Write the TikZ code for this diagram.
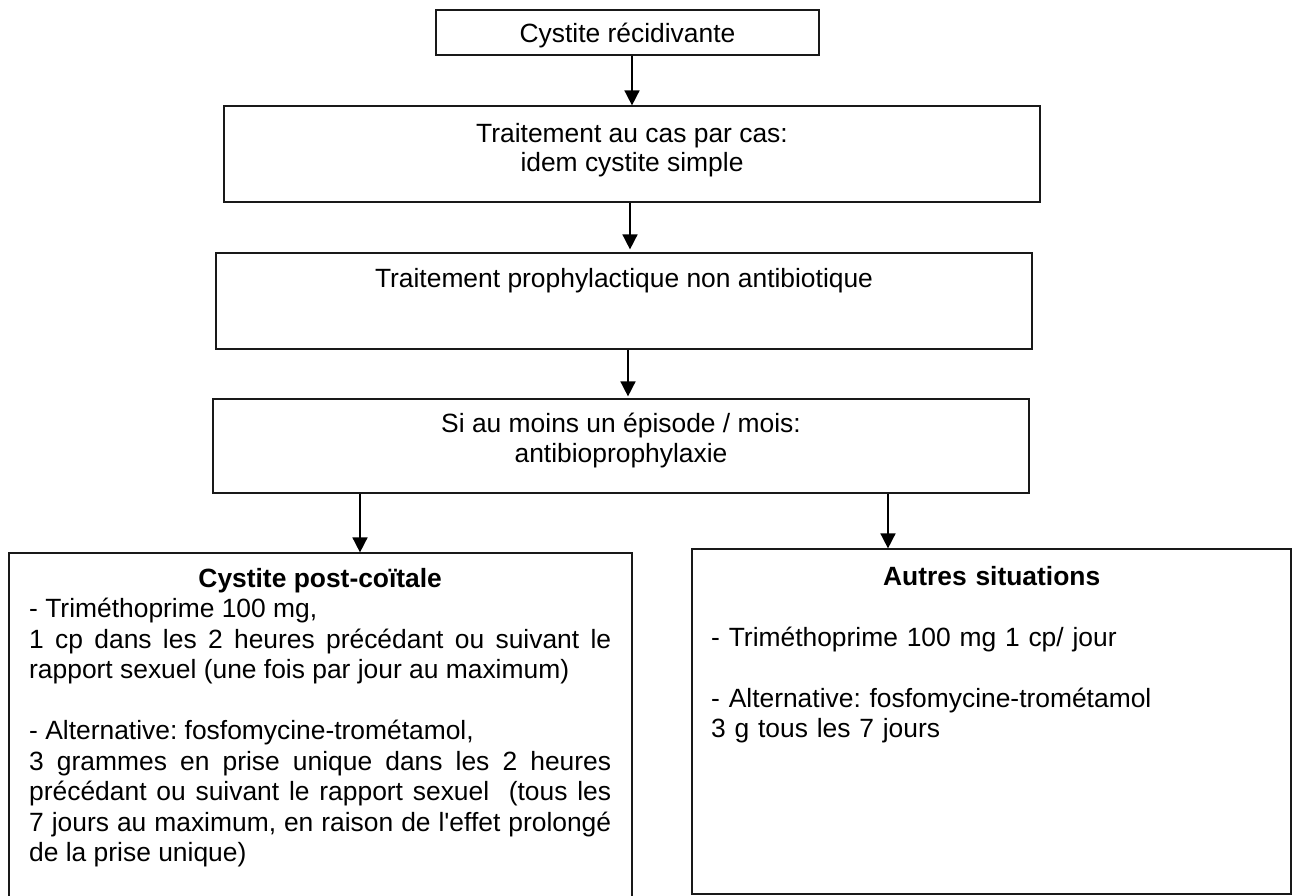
\documentclass[tikz,border=0pt]{standalone}
\usepackage{fontspec}
\setmainfont{Liberation Sans}[Ligatures=TeXOff]
\usetikzlibrary{arrows.meta}
\tolerance=10000
\hyphenpenalty=10000
\frenchspacing
\begin{document}
\begin{tikzpicture}[x=1pt,y=-1pt,
  every node/.style={font=\fontsize{26.4}{30.5}\selectfont\frenchspacing},
  box/.style={draw=black!90, line width=1.2pt, inner sep=0pt, rectangle},
  txt/.style={inner sep=0pt, align=center, text=black},
  arr/.style={-{Triangle[width=15pt,length=15pt]}, line width=1.6pt, draw=black}]
\useasboundingbox (0,0) rectangle (1296,895);
\fill[white] (0,0) rectangle (1296,895);
\clip (0,0) rectangle (1296,895);

% boxes
\node[box, minimum width=383pt, minimum height=45pt] (b1) at (627.5,32.5) {};
\node[box, minimum width=816pt, minimum height=96pt] (b2) at (632,154) {};
\node[box, minimum width=816pt, minimum height=96pt] (b3) at (624,301) {};
\node[box, minimum width=816pt, minimum height=94pt] (b4) at (621,446) {};
\node[box, minimum width=623pt, minimum height=352pt] (b5) at (320.5,729) {};
\node[box, minimum width=599pt, minimum height=345pt] (b6) at (991.5,721.5) {};

% texts
\node[txt, anchor=base] (t1) at (627.5,42.5) {Cystite récidivante};
\node[txt, anchor=north, font=\fontsize{26.4}{29}\selectfont] (t2) at (632,122.5)
  {\rule{0pt}{20pt}Traitement au cas par cas:\\idem cystite simple};
\node[txt, anchor=base] (t3) at (624,287) {Traitement prophylactique non antibiotique};
\node[txt, anchor=north] (t4) at (621,412)
  {\rule{0pt}{20pt}Si au moins un épisode / mois:\\antibioprophylaxie};

\node[inner sep=0pt, anchor=north west, text width=582pt, align=justify] (t5) at (29,567)
  {\rule{0pt}{20pt}\hbox to\hsize{\hss\bfseries Cystite post-coïtale\hss}\\
   - Triméthoprime 100 mg,\\
   1 cp dans les 2 heures précédant ou suivant le\linebreak
   rapport sexuel (une fois par jour au maximum)\\[30.5pt]
   - Alternative: fosfomycine-trométamol,\\
   3 grammes en prise unique dans les 2 heures\linebreak
   précédant ou suivant le rapport sexuel\ \ (tous les\linebreak
   7 jours au maximum, en raison de l'effet prolongé\linebreak
   de la prise unique)};

\node[inner sep=0pt, anchor=north west, text width=561pt, align=left] (t6) at (711,565)
  {\rule{0pt}{20pt}\hbox to\hsize{\hss\bfseries Autres situations\hss}\\[30.5pt]
   - Triméthoprime 100 mg 1 cp/ jour\\[30.5pt]
   - Alternative: fosfomycine-trométamol\\
   3 g tous les 7 jours};

% connectors
\draw[arr] (b1.south -| b2.north) -- (b2.north);
\draw[arr] ([xshift=-2pt]b2.south) -- ([xshift=6pt,yshift=3pt]b3.north);
\draw[arr] ([xshift=4pt]b3.south) -- ([xshift=7pt,yshift=2pt]b4.north);
\draw[arr] ([xshift=-261pt]b4.south) -- ([xshift=39.5pt]b5.north);
\draw[arr] ([xshift=267pt]b4.south) -- ([xshift=-103.5pt]b6.north);
\end{tikzpicture}
\end{document}
